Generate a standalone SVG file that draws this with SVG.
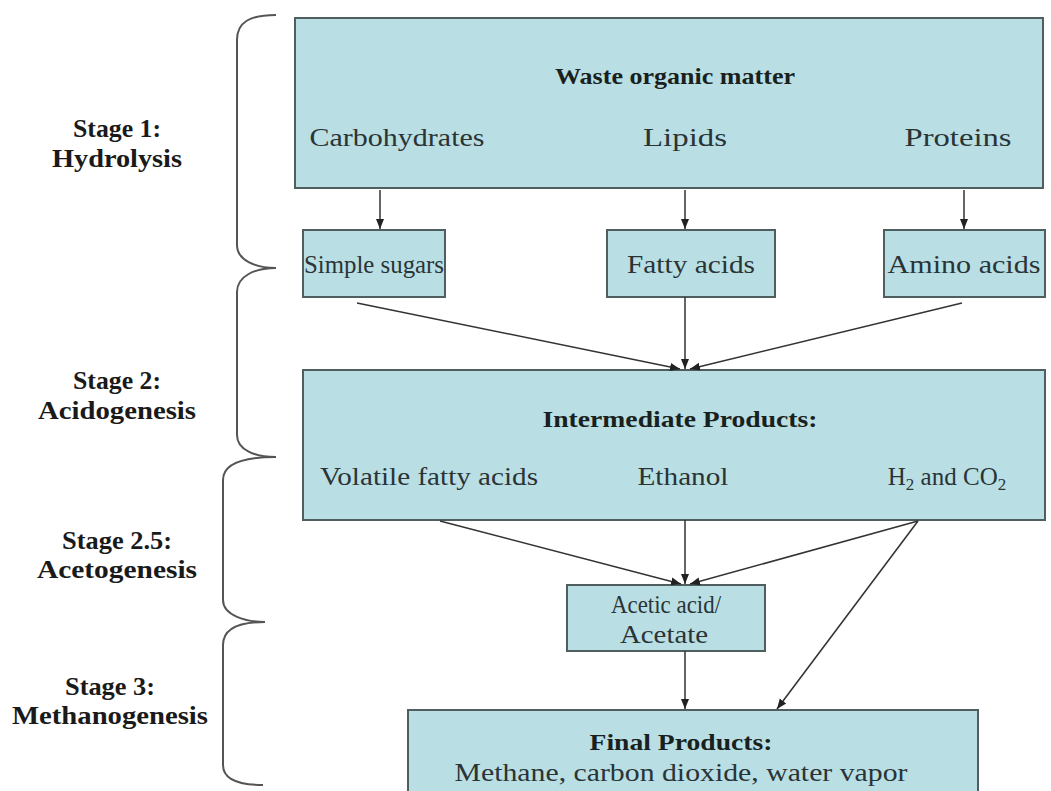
<svg xmlns="http://www.w3.org/2000/svg" width="1051" height="791" viewBox="0 0 1051 791">
<style>
.box{fill:#b9dfe4;stroke:#4f5f60;stroke-width:2}
.t{font-family:"Liberation Serif",serif;font-size:25px;fill:#2a3436;text-anchor:middle}
.b{font-family:"Liberation Serif",serif;font-size:24px;font-weight:bold;fill:#1a1f20;text-anchor:middle}
.s{font-family:"Liberation Serif",serif;font-size:26px;font-weight:bold;fill:#1a1a1a;text-anchor:middle}
.c{stroke:#333;stroke-width:1.5;fill:none}
.br{stroke:#555;stroke-width:2;fill:none}
</style>
<defs>
<marker id="ah" viewBox="0 0 10 10" refX="10" refY="5" markerWidth="10" markerHeight="10" markerUnits="userSpaceOnUse" orient="auto">
<path d="M0,1 L10,5 L0,9 Z" fill="#222"/>
</marker>
</defs>
<rect width="1051" height="791" fill="#fff"/>
<g id="braces">
<path class="br" d="M276,15 C250,15 237,22 237,40 L237,245 C237,260 255,268 276,268"/>
<path class="br" d="M276,268 C255,268 237,276 237,292 L237,435 C237,450 255,457 276,457"/>
<path class="br" d="M276,457 C245,457 223,463 223,480 L223,600 C223,615 245,622 265,622"/>
<path class="br" d="M265,622 C240,622 223,628 223,645 L223,765 C223,780 240,785 263,785"/>
</g>
<g id="stage-labels">
<text class="s" x="117" y="137" textLength="88" lengthAdjust="spacingAndGlyphs">Stage 1:</text>
<text class="s" x="117" y="167" textLength="130" lengthAdjust="spacingAndGlyphs">Hydrolysis</text>
<text class="s" x="117" y="389" textLength="88" lengthAdjust="spacingAndGlyphs">Stage 2:</text>
<text class="s" x="117" y="419" textLength="158" lengthAdjust="spacingAndGlyphs">Acidogenesis</text>
<text class="s" x="117" y="549" textLength="110" lengthAdjust="spacingAndGlyphs">Stage 2.5:</text>
<text class="s" x="117" y="578" textLength="160" lengthAdjust="spacingAndGlyphs">Acetogenesis</text>
<text class="s" x="110" y="695" textLength="90" lengthAdjust="spacingAndGlyphs">Stage 3:</text>
<text class="s" x="110" y="724" textLength="196" lengthAdjust="spacingAndGlyphs">Methanogenesis</text>
</g>
<g id="waste">
<rect class="box" x="295" y="18" width="748" height="170"/>
<text class="b" x="675" y="84" textLength="240" lengthAdjust="spacingAndGlyphs">Waste organic matter</text>
<text class="t" x="397" y="146" textLength="175" lengthAdjust="spacingAndGlyphs">Carbohydrates</text>
<text class="t" x="685" y="146" textLength="84" lengthAdjust="spacingAndGlyphs">Lipids</text>
<text class="t" x="958" y="146" textLength="107" lengthAdjust="spacingAndGlyphs">Proteins</text>
</g>
<g id="simple-sugars">
<rect class="box" x="303" y="230" width="142" height="67"/>
<text class="t" x="374" y="273" textLength="140" lengthAdjust="spacingAndGlyphs">Simple sugars</text>
</g>
<g id="fatty-acids">
<rect class="box" x="607" y="230" width="168" height="67"/>
<text class="t" x="691" y="273" textLength="128" lengthAdjust="spacingAndGlyphs">Fatty acids</text>
</g>
<g id="amino-acids">
<rect class="box" x="884" y="230" width="161" height="67"/>
<text class="t" x="964" y="273" textLength="153" lengthAdjust="spacingAndGlyphs">Amino acids</text>
</g>
<g id="intermediate">
<rect class="box" x="303" y="370" width="742" height="150"/>
<text class="b" x="680" y="427" textLength="275" lengthAdjust="spacingAndGlyphs">Intermediate Products:</text>
<text class="t" x="429" y="485" textLength="218" lengthAdjust="spacingAndGlyphs">Volatile fatty acids</text>
<text class="t" x="683" y="485" textLength="91" lengthAdjust="spacingAndGlyphs">Ethanol</text>
<text class="t" x="947" y="485">H<tspan font-size="17" dy="5">2</tspan><tspan dy="-5"> and CO</tspan><tspan font-size="17" dy="5">2</tspan></text>
</g>
<g id="acetic">
<rect class="box" x="567" y="585" width="198" height="66"/>
<text class="t" x="666" y="613" textLength="110" lengthAdjust="spacingAndGlyphs">Acetic acid/</text>
<text class="t" x="664" y="643" textLength="88" lengthAdjust="spacingAndGlyphs">Acetate</text>
</g>
<g id="final">
<rect class="box" x="408" y="710" width="570" height="90"/>
<text class="b" x="681" y="750" textLength="183" lengthAdjust="spacingAndGlyphs">Final Products:</text>
<text class="t" x="681" y="781" textLength="453" lengthAdjust="spacingAndGlyphs">Methane, carbon dioxide, water vapor</text>
</g>
<g id="connectors">
<line class="c" x1="380" y1="190" x2="380" y2="229" marker-end="url(#ah)"/>
<line class="c" x1="685" y1="190" x2="685" y2="229" marker-end="url(#ah)"/>
<line class="c" x1="964" y1="190" x2="964" y2="229" marker-end="url(#ah)"/>
<line class="c" x1="357" y1="303" x2="680" y2="369" marker-end="url(#ah)"/>
<line class="c" x1="685" y1="297" x2="685" y2="369" marker-end="url(#ah)"/>
<line class="c" x1="962" y1="303" x2="690" y2="369" marker-end="url(#ah)"/>
<line class="c" x1="440" y1="521" x2="681" y2="584" marker-end="url(#ah)"/>
<line class="c" x1="685" y1="520" x2="685" y2="584" marker-end="url(#ah)"/>
<line class="c" x1="918" y1="521" x2="690" y2="584" marker-end="url(#ah)"/>
<line class="c" x1="918" y1="521" x2="777" y2="709" marker-end="url(#ah)"/>
<line class="c" x1="685" y1="651" x2="685" y2="709" marker-end="url(#ah)"/>
</g>
</svg>
